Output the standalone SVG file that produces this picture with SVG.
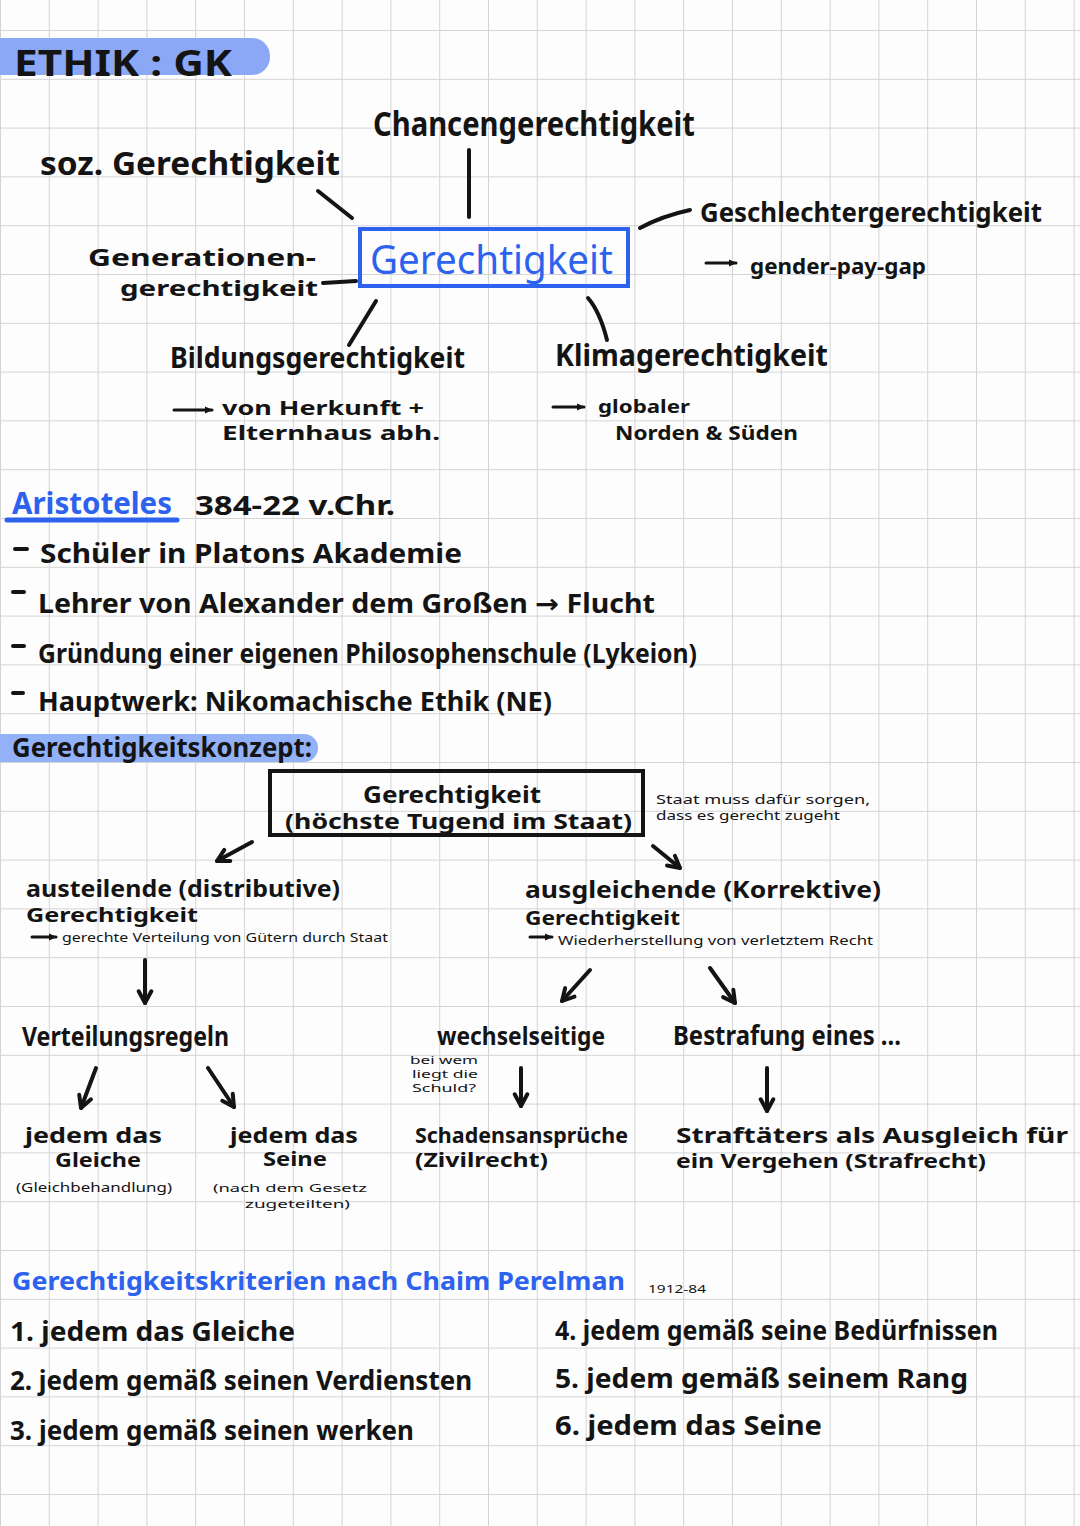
<svg xmlns="http://www.w3.org/2000/svg" width="1080" height="1526" viewBox="0 0 1080 1526">
<defs>
<pattern id="grid" patternUnits="userSpaceOnUse" x="0" y="30" width="48.8" height="48.8">
<path d="M0 0H48.8M0 0V48.8" stroke="#d4d4d4" stroke-width="2" fill="none"/>
</pattern>
<marker id="ah" viewBox="0 0 10 10" refX="8" refY="5" markerWidth="4.5" markerHeight="4.5" orient="auto" markerUnits="strokeWidth">
<path d="M1.5 1.5L8 5L1.5 8.5" fill="none" stroke="#141414" stroke-width="2.2" stroke-linecap="round" stroke-linejoin="round"/>
</marker>
<marker id="ahs" viewBox="0 0 10 10" refX="8" refY="5" markerWidth="3" markerHeight="3" orient="auto" markerUnits="strokeWidth">
<path d="M0 1L9 5L0 9Z" fill="#141414"/>
</marker>
<style>
.t{font-family:"Noto Sans","DejaVu Sans",sans-serif;font-weight:700;fill:#141414}
.r{font-family:"Noto Sans","DejaVu Sans",sans-serif;font-weight:400;fill:#141414}
.bl{fill:#2d62ee}
.ln{stroke:#141414;stroke-width:4;stroke-linecap:round;fill:none}
.ar{stroke:#141414;stroke-width:4;stroke-linecap:round;fill:none;marker-end:url(#ah)}
.as{stroke:#141414;stroke-width:3;stroke-linecap:round;fill:none;marker-end:url(#ahs)}
</style>
</defs>
<rect width="1080" height="1526" fill="#fdfdfd"/>
<rect width="1080" height="1526" fill="url(#grid)"/>

<g id="title">
<rect x="-30" y="38" width="300" height="37" rx="18" fill="#8aa8f5"/>
<text class="t" x="14" y="76" font-size="36" textLength="218" lengthAdjust="spacingAndGlyphs">ETHIK : GK</text>
</g>

<g id="connectors">
<path class="ln" d="M469 150V217"/>
<path class="ln" d="M318 191L352 218"/>
<path class="ln" d="M323 283L356 281"/>
<path class="ln" d="M640 228Q662 216 690 210"/>
<path class="ln" d="M376 301L349 345"/>
<path class="ln" d="M588 298Q600 312 607 340"/>
<path class="as" d="M174 410H212"/>
<path class="as" d="M553 407H584"/>
<path class="as" d="M706 263H736"/>
<path class="ar" d="M252 842L217 861"/>
<path class="ar" d="M653 846L680 868"/>
<path class="as" d="M32 937H56"/>
<path class="as" d="M530 937H552"/>
<path class="ar" d="M145 960V1003"/>
<path class="ar" d="M96 1068L81 1108"/>
<path class="ar" d="M208 1068L234 1107"/>
<path class="ar" d="M590 970L562 1001"/>
<path class="ar" d="M710 968L735 1003"/>
<path class="ar" d="M521 1068V1106"/>
<path class="ar" d="M767 1068V1111"/>
</g>

<g id="chancen"><text class="t" x="373" y="136" font-size="34" textLength="322" lengthAdjust="spacingAndGlyphs">Chancengerechtigkeit</text></g>
<g id="soz"><text class="t" x="40" y="175" font-size="32" textLength="300" lengthAdjust="spacingAndGlyphs">soz. Gerechtigkeit</text></g>
<g id="generationen">
<text class="t" x="88" y="266" font-size="24" textLength="228" lengthAdjust="spacingAndGlyphs">Generationen-</text>
<text class="t" x="120" y="296" font-size="22" textLength="198" lengthAdjust="spacingAndGlyphs">gerechtigkeit</text>
</g>
<g id="gerechtigkeit-main">
<rect x="360" y="229" width="268" height="57" fill="none" stroke="#2d62ee" stroke-width="4"/>
<text class="r bl" x="370" y="274" font-size="40" textLength="243" lengthAdjust="spacingAndGlyphs">Gerechtigkeit</text>
</g>
<g id="geschlecht">
<text class="t" x="700" y="222" font-size="26" textLength="342" lengthAdjust="spacingAndGlyphs">Geschlechtergerechtigkeit</text>
<text class="t" x="750" y="274" font-size="22" textLength="176" lengthAdjust="spacingAndGlyphs">gender-pay-gap</text>
</g>
<g id="bildung">
<text class="t" x="170" y="368" font-size="28" textLength="295" lengthAdjust="spacingAndGlyphs">Bildungsgerechtigkeit</text>
<text class="t" x="222" y="415" font-size="19" textLength="202" lengthAdjust="spacingAndGlyphs">von Herkunft +</text>
<text class="t" x="222" y="440" font-size="19" textLength="218" lengthAdjust="spacingAndGlyphs">Elternhaus abh.</text>
</g>
<g id="klima">
<text class="t" x="555" y="366" font-size="30" textLength="273" lengthAdjust="spacingAndGlyphs">Klimagerechtigkeit</text>
<text class="t" x="598" y="413" font-size="17" textLength="92" lengthAdjust="spacingAndGlyphs">globaler</text>
<text class="t" x="615" y="440" font-size="19" textLength="183" lengthAdjust="spacingAndGlyphs">Norden &amp; Süden</text>
</g>

<g id="aristoteles">
<text class="t bl" x="12" y="514" font-size="30" font-weight="400" textLength="160" lengthAdjust="spacingAndGlyphs">Aristoteles</text>
<path d="M7 520H177" stroke="#2d62ee" stroke-width="5" stroke-linecap="round"/>
<text class="t" x="195" y="515" font-size="26" textLength="200" lengthAdjust="spacingAndGlyphs">384-22 v.Chr.</text>
<path class="ln" d="M15 549H27M13 592H24M13 646H24M13 693H23"/>
<text class="t" x="40" y="563" font-size="26" textLength="422" lengthAdjust="spacingAndGlyphs">Schüler in Platons Akademie</text>
<text class="t" x="38" y="613" font-size="26" textLength="617" lengthAdjust="spacingAndGlyphs">Lehrer von Alexander dem Großen → Flucht</text>
<text class="t" x="38" y="663" font-size="26" textLength="659" lengthAdjust="spacingAndGlyphs">Gründung einer eigenen Philosophenschule (Lykeion)</text>
<text class="t" x="38" y="711" font-size="26" textLength="514" lengthAdjust="spacingAndGlyphs">Hauptwerk: Nikomachische Ethik (NE)</text>
</g>

<g id="konzept">
<rect x="-30" y="734" width="348" height="28" rx="14" fill="#93b1f6"/>
<text class="t" x="12" y="757" font-size="26" textLength="300" lengthAdjust="spacingAndGlyphs">Gerechtigkeitskonzept:</text>
</g>
<g id="gerechtigkeit-staat">
<rect x="270" y="771" width="373" height="64" fill="none" stroke="#141414" stroke-width="4"/>
<text class="t" x="363" y="803" font-size="24" textLength="178" lengthAdjust="spacingAndGlyphs">Gerechtigkeit</text>
<text class="t" x="285" y="829" font-size="21" textLength="347" lengthAdjust="spacingAndGlyphs">(höchste Tugend im Staat)</text>
<text class="r" x="656" y="804" font-size="13" textLength="214" lengthAdjust="spacingAndGlyphs">Staat muss dafür sorgen,</text>
<text class="r" x="656" y="820" font-size="12" textLength="184" lengthAdjust="spacingAndGlyphs">dass es gerecht zugeht</text>
</g>
<g id="austeilende">
<text class="t" x="26" y="897" font-size="23" textLength="314" lengthAdjust="spacingAndGlyphs">austeilende (distributive)</text>
<text class="t" x="26" y="922" font-size="19" textLength="172" lengthAdjust="spacingAndGlyphs">Gerechtigkeit</text>
<text class="r" x="62" y="942" font-size="12" textLength="326" lengthAdjust="spacingAndGlyphs">gerechte Verteilung von Gütern durch Staat</text>
</g>
<g id="ausgleichende">
<text class="t" x="525" y="898" font-size="23" textLength="356" lengthAdjust="spacingAndGlyphs">ausgleichende (Korrektive)</text>
<text class="t" x="525" y="925" font-size="19" textLength="155" lengthAdjust="spacingAndGlyphs">Gerechtigkeit</text>
<text class="r" x="558" y="945" font-size="12" textLength="315" lengthAdjust="spacingAndGlyphs">Wiederherstellung von verletztem Recht</text>
</g>
<g id="verteilungsregeln"><text class="t" x="22" y="1046" font-size="27" textLength="207" lengthAdjust="spacingAndGlyphs">Verteilungsregeln</text></g>
<g id="gleiche">
<text class="t" x="25" y="1143" font-size="22" textLength="137" lengthAdjust="spacingAndGlyphs">jedem das</text>
<text class="t" x="55" y="1167" font-size="19" textLength="86" lengthAdjust="spacingAndGlyphs">Gleiche</text>
<text class="r" x="16" y="1192" font-size="12" textLength="156" lengthAdjust="spacingAndGlyphs">(Gleichbehandlung)</text>
</g>
<g id="seine">
<text class="t" x="230" y="1143" font-size="22" textLength="128" lengthAdjust="spacingAndGlyphs">jedem das</text>
<text class="t" x="263" y="1166" font-size="19" textLength="64" lengthAdjust="spacingAndGlyphs">Seine</text>
<text class="r" x="213" y="1192" font-size="11" textLength="154" lengthAdjust="spacingAndGlyphs">(nach dem Gesetz</text>
<text class="r" x="245" y="1208" font-size="11" textLength="105" lengthAdjust="spacingAndGlyphs">zugeteilten)</text>
</g>
<g id="wechselseitige">
<text class="t" x="437" y="1045" font-size="25" textLength="168" lengthAdjust="spacingAndGlyphs">wechselseitige</text>
<text class="r" x="410" y="1064" font-size="10" textLength="68" lengthAdjust="spacingAndGlyphs">bei wem</text>
<text class="r" x="412" y="1078" font-size="10" textLength="66" lengthAdjust="spacingAndGlyphs">liegt die</text>
<text class="r" x="412" y="1092" font-size="10" textLength="64" lengthAdjust="spacingAndGlyphs">Schuld?</text>
</g>
<g id="bestrafung"><text class="t" x="673" y="1045" font-size="26" textLength="228" lengthAdjust="spacingAndGlyphs">Bestrafung eines ...</text></g>
<g id="schadensansprueche">
<text class="t" x="415" y="1143" font-size="21" textLength="213" lengthAdjust="spacingAndGlyphs">Schadensansprüche</text>
<text class="t" x="415" y="1167" font-size="19" textLength="133" lengthAdjust="spacingAndGlyphs">(Zivilrecht)</text>
</g>
<g id="straftaeter">
<text class="t" x="676" y="1143" font-size="21" textLength="392" lengthAdjust="spacingAndGlyphs">Straftäters als Ausgleich für</text>
<text class="t" x="676" y="1168" font-size="19" textLength="310" lengthAdjust="spacingAndGlyphs">ein Vergehen (Strafrecht)</text>
</g>

<g id="perelman">
<text class="t bl" x="12" y="1290" font-size="25" textLength="613" lengthAdjust="spacingAndGlyphs">Gerechtigkeitskriterien nach Chaim Perelman</text>
<text class="r" x="648" y="1293" font-size="11" textLength="58" lengthAdjust="spacingAndGlyphs">1912-84</text>
<text class="t" x="10" y="1341" font-size="26" textLength="285" lengthAdjust="spacingAndGlyphs">1. jedem das Gleiche</text>
<text class="t" x="10" y="1390" font-size="26" textLength="462" lengthAdjust="spacingAndGlyphs">2. jedem gemäß seinen Verdiensten</text>
<text class="t" x="10" y="1440" font-size="26" textLength="404" lengthAdjust="spacingAndGlyphs">3. jedem gemäß seinen werken</text>
<text class="t" x="555" y="1340" font-size="26" textLength="443" lengthAdjust="spacingAndGlyphs">4. jedem gemäß seine Bedürfnissen</text>
<text class="t" x="555" y="1388" font-size="26" textLength="413" lengthAdjust="spacingAndGlyphs">5. jedem gemäß seinem Rang</text>
<text class="t" x="555" y="1435" font-size="26" textLength="267" lengthAdjust="spacingAndGlyphs">6. jedem das Seine</text>
</g>
</svg>
